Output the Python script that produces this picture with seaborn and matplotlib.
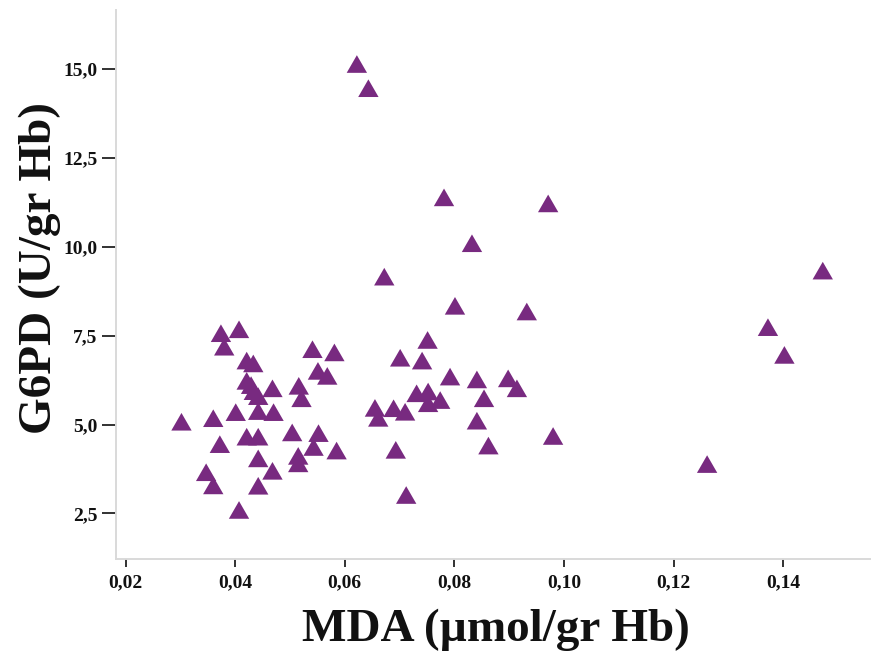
import numpy as np
import pandas as pd
import matplotlib
matplotlib.use("Agg")
import matplotlib.pyplot as plt
import seaborn as sns

# MDA (µmol/gr Hb) values
mda = [0.0302, 0.0360, 0.0374, 0.0380, 0.0407, 0.0372, 0.0347, 0.0360, 0.0407, 0.0401,
       0.0421, 0.0433, 0.0421, 0.0429, 0.0434, 0.0442, 0.0442, 0.0468, 0.0470, 0.0421,
       0.0442, 0.0442, 0.0468, 0.0442, 0.0541, 0.0581, 0.0551, 0.0568, 0.0516, 0.0521,
       0.0504, 0.0552, 0.0543, 0.0585, 0.0515, 0.0515, 0.0622, 0.0643, 0.0781, 0.0971,
       0.0832, 0.0672, 0.0801, 0.0932, 0.0751, 0.0701, 0.0741, 0.0792, 0.0841, 0.0898,
       0.0914, 0.0655, 0.0661, 0.0689, 0.0710, 0.0731, 0.0752, 0.0752, 0.0774, 0.0854,
       0.0841, 0.0980, 0.0693, 0.0862, 0.0712, 0.1472, 0.1372, 0.1402, 0.1261]
# G6PD (U/gr Hb) values
g6pd = [5.08, 5.18, 7.57, 7.19, 7.68, 4.45, 3.66, 3.29, 2.60, 5.35,
        6.80, 6.72, 6.23, 6.11, 5.94, 5.80, 5.38, 6.02, 5.35, 4.66,
        4.66, 4.05, 3.70, 3.28, 7.12, 7.03, 6.51, 6.37, 6.09, 5.74,
        4.78, 4.76, 4.37, 4.27, 4.12, 3.91, 15.14, 14.46, 11.39, 11.22,
        10.10, 9.16, 8.34, 8.18, 7.38, 6.88, 6.80, 6.35, 6.27, 6.30,
        6.02, 5.47, 5.19, 5.46, 5.36, 5.88, 5.93, 5.60, 5.69, 5.74,
        5.11, 4.68, 4.29, 4.41, 3.02, 9.33, 7.74, 6.96, 3.89]

x_ticks = [0.02, 0.04, 0.06, 0.08, 0.10, 0.12, 0.14]
x_tick_labels = ["0,02", "0,04", "0,06", "0,08", "0,10", "0,12", "0,14"]
y_ticks = [2.5, 5.0, 7.5, 10.0, 12.5, 15.0]
y_tick_labels = ["2,5", "5,0", "7,5", "10,0", "12,5", "15,0"]

df = pd.DataFrame({"MDA": mda, "G6PD": g6pd})

sns.set_style("white")
plt.rcParams["font.family"] = ["Liberation Serif", "DejaVu Serif"]

fig = plt.figure(figsize=(8.71, 6.58), dpi=100)
W, H = 871, 658
left, right, bottom, top = 115.7, 871, 559.3, 10
ax = fig.add_axes([left / W, 1 - bottom / H, (right - left) / W, (bottom - top) / H])

tri = [(-1, -0.866), (1, -0.866), (0, 0.866)]
sns.scatterplot(data=df, x="MDA", y="G6PD", ax=ax, marker=tri, s=215,
                color="#782A80", edgecolor="none", linewidth=0, zorder=3)

ax.set_xlim(0.0182, 0.1560)
ax.set_ylim(1.212, 16.659)
ax.set_xticks(x_ticks)
ax.set_xticklabels(x_tick_labels)
ax.set_yticks(y_ticks)
ax.set_yticklabels(y_tick_labels)

for s in ["top", "right"]:
    ax.spines[s].set_visible(False)
for s in ["left", "bottom"]:
    ax.spines[s].set_color("#d9d9d9")
    ax.spines[s].set_linewidth(1.4)

ax.tick_params(axis="both", which="major", direction="out", bottom=True, left=True,
               color="#222222", labelsize=14)
ax.tick_params(axis="x", length=6, width=1.3, pad=5)
ax.tick_params(axis="y", length=10, width=1.3, pad=3)
for lbl in ax.get_xticklabels() + ax.get_yticklabels():
    lbl.set_fontweight("bold")
    lbl.set_color("#111111")

ax.set_xlabel("MDA (µmol/gr Hb)", fontsize=34, fontweight="bold", color="#111111")
ax.set_ylabel("G6PD (U/gr Hb)", fontsize=34, fontweight="bold", color="#111111")
ax.xaxis.set_label_coords(0.504, -0.1287)
ax.xaxis.label.set_va("center")
ax.yaxis.set_label_coords(-0.1000, 0.530)
ax.yaxis.label.set_va("center")

fig.savefig("out.png", dpi=100, facecolor="white")
